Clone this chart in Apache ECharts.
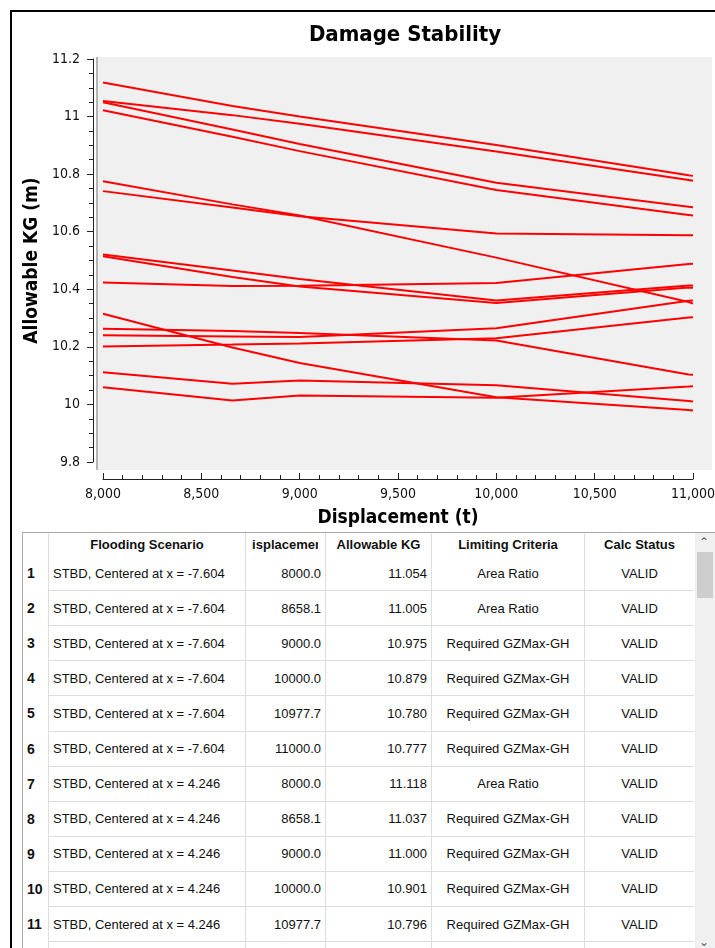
<!DOCTYPE html>
<html>
<head>
<meta charset="utf-8">
<script src="https://cdn.jsdelivr.net/npm/echarts@6/dist/echarts.min.js"></script>
<style>
  html, body { margin: 0; padding: 0; background: #fff; }
  body { width: 715px; height: 948px; overflow: hidden; position: relative; font-family: 'Liberation Sans', Arial, sans-serif; }
  #frame { position: absolute; left: 10px; top: 10px; width: 720px; height: 960px; border-left: 2px solid #000; border-top: 2px solid #000; }
  #chart { position: absolute; left: 0; top: 0; width: 715px; height: 530px; }
  .ln { position: absolute; background: #dedede; }
  .cell { position: absolute; font-size: 13px; color: #111; white-space: nowrap; overflow: hidden; display: flex; align-items: center; }
  .hd { font-weight: bold; justify-content: center; }
</style>
</head>
<body>
<div id="frame"></div>
<div id="chart"></div>
<div id="table"></div>
<script>
//----data-------
const displacement = [8000, 8658.1, 9000, 10000, 10977.7, 11000];

// the two scenarios listed in the table
const kgStbdM7604 = [11.054, 11.005, 10.975, 10.879, 10.780, 10.777];
const kgStbd4246  = [11.118, 11.037, 11.000, 10.901, 10.796, 10.794];
// other scenarios
const kgCase03 = [11.050, 10.955, 10.905, 10.770, 10.687, 10.685];
const kgCase04 = [11.022, 10.930, 10.880, 10.745, 10.658, 10.656];
const kgCase05 = [10.775, 10.695, 10.656, 10.510, 10.356, 10.350];
const kgCase06 = [10.741, 10.684, 10.654, 10.594, 10.588, 10.588];
const kgCase07 = [10.521, 10.465, 10.436, 10.361, 10.413, 10.413];
const kgCase08 = [10.515, 10.443, 10.410, 10.352, 10.406, 10.405];
const kgCase09 = [10.424, 10.411, 10.412, 10.422, 10.488, 10.489];
const kgCase10 = [10.315, 10.198, 10.144, 10.025, 9.981, 9.979];
const kgCase11 = [10.263, 10.255, 10.248, 10.222, 10.104, 10.103];
const kgCase12 = [10.240, 10.236, 10.234, 10.265, 10.360, 10.361];
const kgCase13 = [10.201, 10.208, 10.212, 10.230, 10.302, 10.303];
const kgCase14 = [10.112, 10.072, 10.083, 10.067, 10.012, 10.010];
const kgCase15 = [10.060, 10.014, 10.031, 10.023, 10.062, 10.063];

const curves = [kgStbd4246, kgStbdM7604, kgCase03, kgCase04, kgCase05, kgCase06, kgCase07,
                kgCase08, kgCase09, kgCase10, kgCase11, kgCase12, kgCase13, kgCase14, kgCase15];

// table
const tableHeaders = ['', 'Flooding Scenario', 'Displacement', 'Allowable KG', 'Limiting Criteria', 'Calc Status'];
const scenarioNames = ['STBD, Centered at x = -7.604', 'STBD, Centered at x = 4.246'];
const criteriaM7604 = ['Area Ratio', 'Area Ratio', 'Required GZMax-GH', 'Required GZMax-GH', 'Required GZMax-GH', 'Required GZMax-GH'];
const criteria4246  = ['Area Ratio', 'Required GZMax-GH', 'Required GZMax-GH', 'Required GZMax-GH', 'Required GZMax-GH'];
const calcStatus = 'VALID';

const FONT = "'DejaVu Sans Condensed', 'DejaVu Sans', sans-serif";

//----chart-------
var myChart = echarts.init(document.getElementById('chart'));

var option = {
    animation: false,
    title: {
        text: 'Damage Stability',
        left: 400,
        top: 19,
        textAlign: 'center',
        textStyle: { fontFamily: FONT, fontSize: 22, fontWeight: 'bold', color: '#000' }
    },
    grid: { left: 103, right: 22, top: 59, bottom: 68, containLabel: false, outerBoundsMode: 'none' },
    graphic: [
        { type: 'rect', z: -10, silent: true, shape: { x: 97, y: 57, width: 615, height: 413 }, style: { fill: '#f0f0f0' } },
        { type: 'rect', z: -9, silent: true, shape: { x: 96, y: 57, width: 2, height: 413 }, style: { fill: '#b4b4b4' } }
    ],
    xAxis: {
        type: 'value',
        min: 8000,
        max: 11000,
        interval: 500,
        offset: 17,
        name: 'Displacement (t)',
        nameLocation: 'middle',
        nameGap: 30,
        nameTextStyle: { fontFamily: FONT, fontSize: 19, fontWeight: 'bold', color: '#000' },
        axisLine: { show: true, lineStyle: { color: '#222', width: 1 } },
        axisTick: { show: true, inside: true, length: 6, lineStyle: { color: '#222' } },
        minorTick: { show: true, splitNumber: 5, length: 4, lineStyle: { color: '#222' } },
        axisLabel: {
            margin: 8,
            fontFamily: FONT, fontSize: 14, color: '#111',
            formatter: v => v.toLocaleString('en-US')
        },
        splitLine: { show: false }
    },
    yAxis: {
        type: 'value',
        min: 9.8,
        max: 11.2,
        interval: 0.2,
        offset: 10,
        name: 'Allowable KG (m)',
        nameLocation: 'middle',
        nameGap: 47,
        nameTextStyle: { fontFamily: FONT, fontSize: 19, fontWeight: 'bold', color: '#000' },
        axisLine: { show: true, lineStyle: { color: '#222', width: 1 } },
        axisTick: { show: true, length: 6, lineStyle: { color: '#222' } },
        minorTick: { show: true, splitNumber: 4, length: 4, lineStyle: { color: '#222' } },
        axisLabel: {
            margin: 13,
            fontFamily: FONT, fontSize: 14, color: '#111',
            formatter: v => String(+v.toFixed(1))
        },
        splitLine: { show: false }
    },
    series: curves.map((kg, i) => ({
        name: 'Scenario ' + (i + 1),
        type: 'line',
        symbol: 'none',
        lineStyle: { color: '#ff0000', width: 2 },
        data: displacement.map((d, j) => [d, kg[j]])
    }))
};

if (option && typeof option === 'object') {
    myChart.setOption(option);
}

//----table-------
const colEdges = [23, 48, 245, 325, 431, 584, 694];
const headTop = 532, firstRowTop = 556, rowH = 35.1;

var rows = [];
displacement.forEach((d, j) => rows.push([scenarioNames[0], d, kgStbdM7604[j], criteriaM7604[j]]));
criteria4246.forEach((c, j) => rows.push([scenarioNames[1], displacement[j], kgStbd4246[j], c]));

var tbl = document.getElementById('table');
function addDiv(cls, css, text) {
    var el = document.createElement('div');
    el.className = cls;
    Object.assign(el.style, css);
    if (text !== undefined) el.textContent = text;
    tbl.appendChild(el);
    return el;
}

// white backing so the table sits over the chart canvas
addDiv('ln', { left: '22px', top: headTop + 'px', width: '693px', height: (948 - headTop) + 'px', background: '#fff' });
// outer borders
addDiv('ln', { left: '22px', top: headTop + 'px', width: '1px', height: (948 - headTop) + 'px', background: '#a8a8a8' });
addDiv('ln', { left: '22px', top: headTop + 'px', width: '693px', height: '1px', background: '#a8a8a8' });
// column lines
colEdges.slice(1, -1).forEach(x => addDiv('ln', { left: x + 'px', top: (headTop + 1) + 'px', width: '1px', height: (948 - headTop) + 'px' }));
// row lines
rows.forEach((r, i) => {
    var y = Math.round(firstRowTop + rowH * (i + 1) - 1);
    addDiv('ln', { left: '48px', top: y + 'px', width: '646px', height: '1px' });
});

// header (the displacement title is wider than its column and gets clipped on both sides)
tableHeaders.forEach((h, c) => {
    if (!h) return;
    var l = colEdges[c] + 1, w = colEdges[c + 1] - colEdges[c] - 1;
    if (c === 2) { l += 6; w -= 13; }
    addDiv('cell hd', { left: l + 'px', top: (headTop + 1) + 'px', width: w + 'px', height: '23px' }, h);
});

// body
rows.forEach((r, i) => {
    var top = firstRowTop + rowH * i;
    var h = rowH - 1;
    addDiv('cell', { left: '27px', top: top + 'px', width: '21px', height: h + 'px', fontWeight: 'bold', fontSize: '14px' }, String(i + 1));
    var vals = [r[0], r[1].toFixed(1), r[2].toFixed(3), r[3], calcStatus];
    var align = ['flex-start', 'flex-end', 'flex-end', 'center', 'center'];
    vals.forEach((v, k) => {
        var c = k + 1;
        addDiv('cell', {
            left: (colEdges[c] + 1) + 'px', top: top + 'px',
            width: (colEdges[c + 1] - colEdges[c] - 1) + 'px', height: h + 'px',
            justifyContent: align[k],
            paddingLeft: k === 0 ? '4px' : '0', paddingRight: (k === 1 || k === 2) ? '4px' : '0',
            boxSizing: 'border-box'
        }, v);
    });
});

// scrollbar
addDiv('ln', { left: '695px', top: (headTop + 1) + 'px', width: '20px', height: (948 - headTop) + 'px', background: '#f0f0f0' });
addDiv('ln', { left: '697px', top: '552px', width: '16px', height: '46px', background: '#cdcdcd' });
addDiv('cell', { left: '695px', top: '535px', width: '18px', height: '14px', justifyContent: 'center', fontSize: '12px', color: '#606060' }, '⌃');
addDiv('cell', { left: '695px', top: '936px', width: '18px', height: '12px', justifyContent: 'center', fontSize: '12px', color: '#606060' }, '⌄');
</script>
</body>
</html>
